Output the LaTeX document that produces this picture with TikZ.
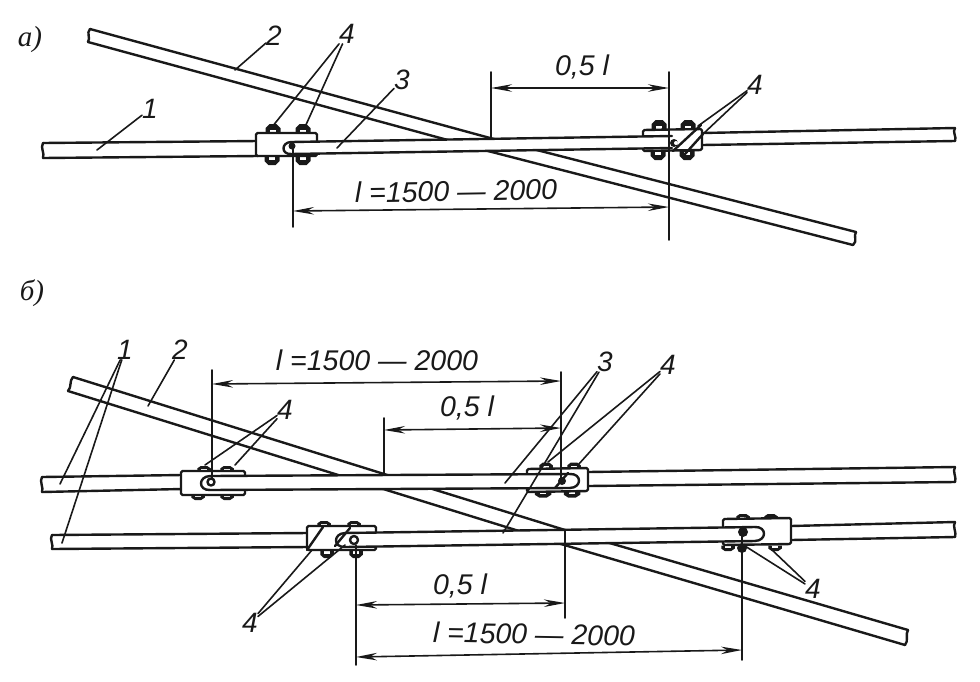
\documentclass[tikz,border=0pt]{standalone}
\usepackage{fontspec}
\setmainfont{Liberation Sans}
\newfontfamily\serifit{Liberation Serif}[ItalicFont=* Italic]
\usetikzlibrary{arrows.meta}
\tikzset{
  ln/.style={line width=2.4pt,line cap=round,line join=round,black!90},
  thin line/.style={line width=1.6pt,line cap=round,black!90},
  dimline/.style={line width=1.6pt,black!90,{Stealth[length=21pt,width=7.5pt]}-{Stealth[length=21pt,width=7.5pt]}},
  lab/.style={font=\fontsize{28.5}{29}\selectfont\itshape,inner sep=1pt,black!90},
  mk/.style={font=\fontsize{29}{29}\selectfont\serifit\itshape,inner sep=0pt,black!90},
  num/.style={font=\fontsize{28}{28}\selectfont\itshape,inner sep=0pt,black!90},
  clampbox/.style={ln,fill=white,rounded corners=1.5pt},
  nut/.pic={\fill[black!90] (-7.5,4) -- (-7.5,-1) -- (-3.5,-5) -- (3.5,-5) -- (7.5,-1) -- (7.5,4) -- cycle;
            \fill[white] (-3,0.5) rectangle (3,3.5);},
}
\newcommand{\barpiece}[4]{% top-left, top-right, bottom-right, bottom-left
  \fill[white] #1 -- #2 -- #3 -- #4 -- cycle;
  \draw[ln] #1 -- #2; \draw[ln] #4 -- #3;}
\begin{document}
\begin{tikzpicture}[x=1pt,y=-1pt]
\useasboundingbox (0,0) rectangle (980,681);
\fill[white] (0,0) rectangle (980,681);

% ------------------ a) ------------------
\node[mk] (ma) at (30,40) {a)};
% wire 2
\draw[ln] (90,29) -- (490,138) -- (856,232);
\draw[ln] (88,42) -- (488,151) -- (853,245);
\draw[ln] (90,29) .. controls (86,33) and (91,38) .. (88,42);
\draw[ln] (856,232) .. controls (853,236) and (858,241) .. (853,245);
% nuts
\pic at (273,129) {nut}; \pic at (303,129) {nut};
\pic[yscale=-1] at (272,160) {nut}; \pic[yscale=-1] at (303,160) {nut};
\pic at (659,125) {nut}; \pic at (688,125) {nut};
\pic[yscale=-1] at (658,155) {nut}; \pic[yscale=-1] at (687,155) {nut};
% bar 1 and right bar
\barpiece{(43,143)}{(258,141)}{(258,156)}{(43,158)}
\barpiece{(702,133)}{(955,128)}{(955,141)}{(702,145)}
\draw[ln] (43,143) .. controls (40,148) and (45,153) .. (43,158);
\draw[ln] (955,128) .. controls (952,132) and (957,137) .. (955,141);
% clamps
\draw[clampbox] (256,133) rectangle (317,156);
\draw[clampbox] (643,130) -- (702,129) -- (702,150) -- (643,151) -- cycle;
% bar 3
\fill[white] (291,142) -- (672,136) -- (672,148) -- (291,154) -- cycle;
\draw[ln] (672,136) -- (291,142) .. controls (281,142.5) and (281,154.5) .. (291,154) -- (672,148);
\draw[ln] (673,151) -- (701,125);
\draw[ln] (685,154) -- (703,134);
\fill[black!90] (674,143) circle (4);
\fill[white] (676,143) circle (2);
\fill[black!90] (292,146) circle (3.5);

% dimensions a
\coordinate (a1) at (491,72); \coordinate (a1b) at (491,137);
\coordinate (a2) at (669,72); \coordinate (a2b) at (669,240);
\coordinate (a3) at (293,147); \coordinate (a3b) at (293,227);
\draw[thin line] (a1) -- (a1b); \draw[thin line] (a2) -- (a2b); \draw[thin line] (a3) -- (a3b);
\coordinate (a4) at (491,88); \coordinate (a5) at (669,88);
\draw[dimline] (a4) -- (a5);
\coordinate (a6) at (293,211); \coordinate (a7) at (669,207);
\draw[dimline] (a6) -- (a7);
\node[lab] (da1) at (582,67) {0,5 l};
\node[lab,rotate=1] (da2) at (456,191) {l =1500 — 2000};

% labels a
\node[num] (n1) at (150,109) {1};
\node[num] (n2) at (274,36) {2};
\node[num] (n3) at (402,80) {3};
\node[num] (n4) at (347,34) {4};
\node[num] (n4b) at (755,85) {4};
\coordinate (t1) at (97,150); \coordinate (t2) at (235,70); \coordinate (t3) at (337,148);
\coordinate (t4) at (272,127); \coordinate (t5) at (305,127);
\coordinate (t6) at (698,126); \coordinate (t7) at (703,134);
\draw[thin line] (n1) -- (t1); \draw[thin line] (n2) -- (t2); \draw[thin line] (n3) -- (t3);
\draw[thin line] (n4) -- (t4); \draw[thin line] (n4) -- (t5);
\draw[thin line] (n4b) -- (t6); \draw[thin line] (n4b) -- (t7);

% ------------------ b) ------------------
\node[mk] (mb) at (32,293) {б)};
% wire 2
\draw[ln] (73,377) -- (384,474) -- (565,530) -- (908,630);
\draw[ln] (68,391) -- (380,488) -- (561,544) -- (905,645);
\draw[ln] (73,377) .. controls (69,381) and (72,387) .. (68,391);
\draw[ln] (908,630) .. controls (905,634) and (909,641) .. (905,645);
% nuts
\pic[xscale=.9,yscale=.6] at (204,469) {nut}; \pic[xscale=.9,yscale=.6] at (227,469) {nut};
\pic[xscale=.9,yscale=-.6] at (198,497) {nut}; \pic[xscale=.9,yscale=-.6] at (227,497) {nut};
\pic[xscale=.9,yscale=.7] at (546,466) {nut}; \pic[xscale=.9,yscale=.7] at (574,466) {nut};
\pic[xscale=1.1,yscale=-.7] at (543,494) {nut}; \pic[xscale=1.1,yscale=-.7] at (572,494) {nut};
\pic[xscale=.9,yscale=.6] at (324,524) {nut}; \pic[xscale=.9,yscale=.6] at (354,524) {nut};
\pic[xscale=.9,yscale=-.8] at (327,554) {nut}; \pic[xscale=.9,yscale=-.8] at (356,554) {nut};
\pic[xscale=.9,yscale=.6] at (743,517) {nut}; \pic[xscale=.9,yscale=.6] at (771,517) {nut};
\pic[xscale=.9,yscale=-.6] at (728,548) {nut}; \pic[xscale=.9,yscale=-.6] at (775,548) {nut};
% upper line outer bars
\barpiece{(42,477)}{(182,475)}{(182,489)}{(42,492)}
\barpiece{(588,472)}{(955,467)}{(955,482)}{(588,486)}
\draw[ln] (42,477) .. controls (39,481) and (44,488) .. (42,492);
\draw[ln] (955,467) .. controls (952,471) and (957,478) .. (955,482);
% lower line outer bars
\barpiece{(52,535)}{(308,533)}{(308,547)}{(52,549)}
\barpiece{(791,526)}{(955,522)}{(955,537)}{(791,540)}
\draw[ln] (52,535) .. controls (49,539) and (54,545) .. (52,549);
\draw[ln] (955,522) .. controls (952,526) and (957,533) .. (955,537);
% clamps
\draw[clampbox] (181,471) rectangle (245,495);
\draw[clampbox] (527,469) -- (588,468) -- (588,491) -- (527,492) -- cycle;
\draw[clampbox] (307,526) rectangle (376,550);
\draw[clampbox] (723,519) -- (791,518) -- (791,544) -- (723,545) -- cycle;
% bars 3
\fill[white] (210,476) -- (570,474) -- (570,488) -- (210,490) -- cycle;
\draw[ln] (570,474) -- (210,476) .. controls (198,476.5) and (198,490.5) .. (210,490) -- (570,488);
\draw[ln] (570,474) .. controls (582,473.5) and (582,487.5) .. (570,488);
\fill[white] (343,533) -- (755,527) -- (755,541) -- (343,547) -- cycle;
\draw[ln] (755,527) -- (345,533) .. controls (333,533.5) and (333,547.5) .. (345,547) -- (755,541);
\draw[ln] (755,527) .. controls (767,526.5) and (767,540.5) .. (755,541);
% holes
\draw[ln,fill=white] (211,482) circle (3.5);
\draw[ln,fill=white] (354,540) circle (4);
\fill[black!90] (562,481) circle (4);
\fill[black!90] (743,532) circle (5);
\fill[black!90] (742,548) circle (5);
% clamp diagonals
\draw[ln] (568,473) -- (555,488);
\draw[ln] (323,527) -- (307,550);
\draw[ln] (350,528) -- (335,546);

% dimensions b
\coordinate (b1) at (212,370); \coordinate (b1b) at (212,478);
\coordinate (b2) at (561,372); \coordinate (b2b) at (561,478);
\coordinate (b3) at (384,418); \coordinate (b3b) at (384,473);
\coordinate (b4) at (565,530); \coordinate (b4b) at (565,618);
\coordinate (b5) at (356,545); \coordinate (b5b) at (356,665);
\coordinate (b6) at (742,535); \coordinate (b6b) at (742,660);
\foreach \p/\q in {b1/b1b,b2/b2b,b3/b3b,b4/b4b,b5/b5b,b6/b6b}{\draw[thin line] (\p) -- (\q);}
\coordinate (d1) at (212,384); \coordinate (d2) at (561,381);
\coordinate (d3) at (384,430); \coordinate (d4) at (561,428);
\coordinate (d5) at (356,605); \coordinate (d6) at (565,603);
\coordinate (d7) at (356,657); \coordinate (d8) at (742,650);
\draw[dimline] (d1) -- (d2); \draw[dimline] (d3) -- (d4);
\draw[dimline] (d5) -- (d6); \draw[dimline] (d7) -- (d8);
\node[lab] (db1) at (377,360) {l =1500 — 2000};
\node[lab] (db2) at (467,408) {0,5 l};
\node[lab] (db3) at (460,586) {0,5 l};
\node[lab,rotate=-1] (db4) at (534,634) {l =1500 — 2000};

% labels b
\node[num] (m1) at (125,350) {1};
\node[num] (m2) at (180,350) {2};
\node[num] (m4a) at (285,410) {4};
\node[num] (m3) at (605,362) {3};
\node[num] (m4b) at (668,365) {4};
\node[num] (m4c) at (250,623) {4};
\node[num] (m4d) at (813,589) {4};
\coordinate (u1) at (60,484); \coordinate (u2) at (62,543); \coordinate (u3) at (148,406);
\coordinate (u4) at (205,465); \coordinate (u5) at (235,465);
\coordinate (u6) at (505,483); \coordinate (u7) at (503,533);
\coordinate (u8) at (548,462); \coordinate (u9) at (578,465);
\coordinate (u10) at (312,550); \coordinate (u11) at (345,545);
\coordinate (u12) at (745,546); \coordinate (u13) at (770,548);
\draw[thin line] (m1) -- (u1); \draw[thin line] (m1) -- (u2); \draw[thin line] (m2) -- (u3);
\draw[thin line] (m4a) -- (u4); \draw[thin line] (m4a) -- (u5);
\draw[thin line] (m3) -- (u6); \draw[thin line] (m3) -- (u7);
\draw[thin line] (m4b) -- (u8); \draw[thin line] (m4b) -- (u9);
\draw[thin line] (m4c) -- (u10); \draw[thin line] (m4c) -- (u11);
\draw[thin line] (m4d) -- (u12); \draw[thin line] (m4d) -- (u13);
\end{tikzpicture}
\end{document}
